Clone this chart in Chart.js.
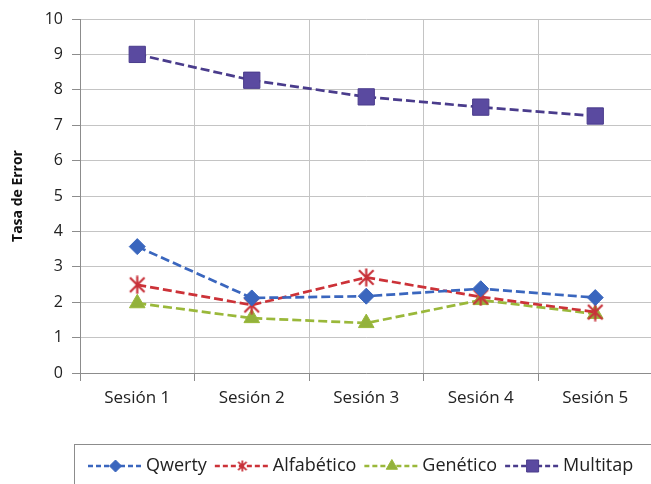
<!DOCTYPE html>
<html>
<head>
<meta charset="utf-8">
<script src="https://cdn.jsdelivr.net/npm/chart.js@4"></script>
<style>
  html, body { margin: 0; padding: 0; background: #fff; overflow: hidden; }
  #wrap { width: 665px; height: 484px; position: relative; }
</style>
</head>
<body>
<div id="wrap"><canvas id="c" width="665" height="484"></canvas></div>
<script>
const sessions = ['Sesión 1', 'Sesión 2', 'Sesión 3', 'Sesión 4', 'Sesión 5'];
const qwerty    = [3.57, 2.12, 2.17, 2.38, 2.13];
const alfabetico = [2.49, 1.92, 2.70, 2.15, 1.72];
const genetico  = [1.97, 1.55, 1.41, 2.06, 1.67];
const multitap  = [9.00, 8.27, 7.80, 7.51, 7.26];
const yTicks    = [0, 1, 2, 3, 4, 5, 6, 7, 8, 9, 10];

const FONT = '"Open Sans", "Liberation Sans", sans-serif';

// Star-like marker: an X crossed by a vertical stroke
function starMarker(size, color, lw) {
  const cv = document.createElement('canvas');
  cv.width = size; cv.height = size;
  const g = cv.getContext('2d');
  g.strokeStyle = color; g.lineWidth = lw; g.lineCap = 'butt';
  const p = lw;
  g.beginPath();
  g.moveTo(p, p); g.lineTo(size - p, size - p);
  g.moveTo(size - p, p); g.lineTo(p, size - p);
  g.moveTo(size / 2, 0.5); g.lineTo(size / 2, size - 0.5);
  g.stroke();
  return cv;
}
const starBig = starMarker(19, '#C8323A', 2.2);
const starSmall = starMarker(12, '#C8323A', 1.8);

const series = [
  { label: 'Qwerty', data: qwerty, color: '#3A66BE', fill: '#3A66BE', style: 'rectRot', r: 8, lr: 6 },
  { label: 'Alfabético', data: alfabetico, color: '#CC3238', fill: '#CC3238', style: starBig, legendStyle: starSmall, r: 9, lr: 6 },
  { label: 'Genético', data: genetico, color: '#9AB83A', fill: '#93B23C', style: 'triangle', r: 9, lr: 6.5 },
  { label: 'Multitap', data: multitap, color: '#4A3C8C', fill: '#5A4AA0', style: 'rect', r: 11.5, lr: 8.5 }
];

// Bordered legend strip along the bottom edge
const legendBox = {
  id: 'legendBox',
  afterDraw(chart) {
    const ctx = chart.ctx;
    ctx.save();
    ctx.strokeStyle = '#8C8C8C';
    ctx.lineWidth = 1;
    ctx.strokeRect(74.5, 444.5, 700, 80);
    ctx.font = '18px ' + FONT;
    ctx.textBaseline = 'middle';
    ctx.fillStyle = '#222';
    let x = 88;
    const y = 466;
    chart.data.datasets.forEach((ds, i) => {
      const s = series[i];
      ctx.strokeStyle = ds.borderColor;
      ctx.lineWidth = 2.5;
      ctx.setLineDash([5, 3]);
      ctx.beginPath();
      ctx.moveTo(x, y); ctx.lineTo(x + 55, y);
      ctx.stroke();
      ctx.setLineDash([]);
      const st = s.legendStyle || s.style;
      ctx.fillStyle = ds.pointBackgroundColor;
      ctx.strokeStyle = ds.pointBorderColor;
      ctx.lineWidth = 1;
      Chart.helpers.drawPoint(ctx, { pointStyle: st, radius: s.lr, borderWidth: 1, rotation: 0 }, x + 27.5, y);
      ctx.fillStyle = '#222';
      ctx.fillText(ds.label, x + 58, y);
      x += 58 + ctx.measureText(ds.label).width + 8;
    });
    ctx.restore();
  }
};

new Chart(document.getElementById('c'), {
  type: 'line',
  data: {
    labels: sessions,
    datasets: series.map(s => ({
      label: s.label,
      data: s.data,
      borderColor: s.color,
      borderWidth: 2.7,
      borderDash: [9, 4],
      pointStyle: s.style,
      pointRadius: s.r,
      pointHoverRadius: s.r,
      pointBackgroundColor: s.fill,
      pointBorderColor: s.color,
      pointBorderWidth: 1,
      tension: 0,
      fill: false
    }))
  },
  options: {
    responsive: false,
    animation: false,
    events: [],
    layout: { padding: { top: 19, right: 9, bottom: 66, left: 0 } },
    plugins: { legend: { display: false }, tooltip: { enabled: false } },
    scales: {
      x: {
        offset: true,
        grid: { offset: true, color: '#C4C4C4', lineWidth: 1, tickLength: 8, tickColor: '#8C8C8C' },
        border: { color: '#8C8C8C', width: 1 },
        ticks: { color: '#222', font: { family: FONT, size: 17 }, padding: 7, maxRotation: 0 },
        afterFit(scale) { scale.height = 45; }
      },
      y: {
        min: 0, max: 10,
        afterBuildTicks(scale) { scale.ticks = yTicks.map(v => ({ value: v })); },
        grid: { color: '#C4C4C4', lineWidth: 1, tickLength: 8, tickColor: '#8C8C8C' },
        border: { color: '#8C8C8C', width: 1 },
        ticks: { color: '#222', font: { family: FONT, size: 16 }, padding: 9 },
        title: { display: true, text: 'Tasa de Error', color: '#111', font: { family: FONT, size: 14, weight: 'bold' }, padding: { top: 10, bottom: 0 } },
        afterFit(scale) { scale.width = 80; }
      }
    }
  },
  plugins: [legendBox]
});
</script>
</body>
</html>
